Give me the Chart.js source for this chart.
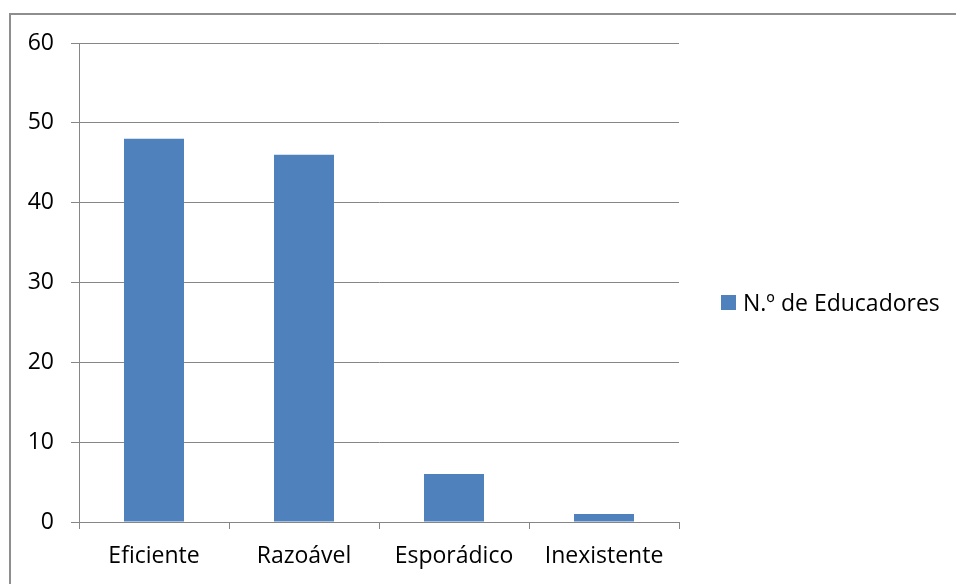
<!DOCTYPE html>
<html>
<head>
<meta charset="utf-8">
<script src="https://cdn.jsdelivr.net/npm/chart.js@4"></script>
<style>
    html, body { margin: 0; padding: 0; background: #fff; overflow: hidden; }
    #wrap { position: relative; width: 956px; height: 584px; }
    #frame {
        position: absolute; left: 9px; top: 13px;
        width: 1000px; height: 1000px;
        border: 2px solid #8e8e8e; box-sizing: border-box;
    }
    canvas { position: absolute; left: 0; top: 0; }
    #legend {
        position: absolute; left: 721px; top: 286px; height: 32px;
        font-family: "Open Sans", sans-serif; font-size: 23px; color: #000;
        display: flex; align-items: center; white-space: nowrap;
    }
    #legend span.box {
        display: inline-block; width: 15px; height: 15px;
        background: #4f81bd; margin-right: 7px;
    }
</style>
</head>
<body>
<div id="wrap">
    <div id="frame"></div>
    <canvas id="chart" width="956" height="584"></canvas>
    <div id="legend"><span class="box"></span><span id="legendText"></span></div>
</div>
<script>
const categories = ['Eficiente', 'Razoável', 'Esporádico', 'Inexistente'];
const educadores = [48, 46, 6, 1];
const seriesName = 'N.º de Educadores';

const gridColor = '#868686';
const barColor = '#4f81bd';
const font = { family: '"Open Sans", sans-serif', size: 23 };

document.getElementById('legendText').textContent = seriesName;

const ctx = document.getElementById('chart').getContext('2d');

new Chart(ctx, {
    type: 'bar',
    data: {
        labels: categories,
        datasets: [{
            label: seriesName,
            data: educadores,
            backgroundColor: barColor,
            categoryPercentage: 1,
            barPercentage: 0.4
        }]
    },
    options: {
        responsive: false,
        animation: false,
        layout: {
            padding: { left: 0, right: 277, top: 43, bottom: 12 }
        },
        scales: {
            x: {
                grid: {
                    offset: true,
                    drawOnChartArea: false,
                    drawTicks: true,
                    tickLength: 7,
                    color: gridColor
                },
                border: { color: gridColor, width: 1 },
                ticks: { color: '#000', font: font, padding: 14 },
                afterFit: scale => { scale.height = 50; }
            },
            y: {
                min: 0,
                max: 60,
                ticks: { stepSize: 10, color: '#000', font: font, padding: 17 },
                grid: { color: gridColor, tickLength: 8 },
                border: { color: gridColor, width: 1 },
                afterFit: scale => { scale.width = 79; }
            }
        },
        plugins: {
            legend: { display: false },
            tooltip: { enabled: false }
        }
    }
});
</script>
</body>
</html>
